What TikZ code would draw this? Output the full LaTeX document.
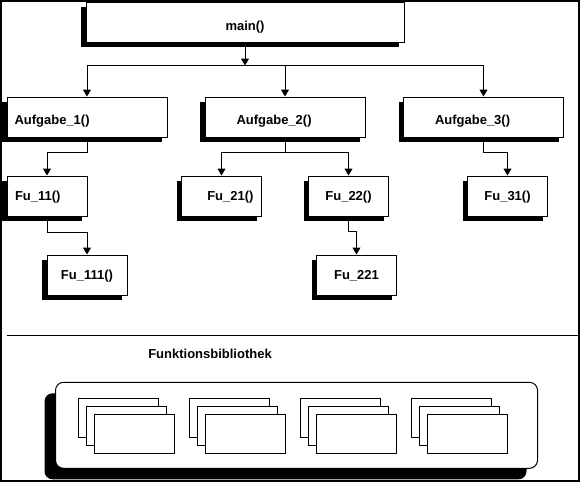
\documentclass[tikz,border=0pt]{standalone}
\usepackage{fontspec}
\setmainfont{Liberation Sans}
\usetikzlibrary{arrows.meta,shadows}

\tikzset{
  box/.style={draw, fill=white, minimum width=80pt, minimum height=40pt, inner sep=0pt,
    text height=9.5pt, text depth=0pt,
    drop shadow={shadow xshift=-5pt, shadow yshift=-5pt, fill=black, opacity=1}},
  bigbox/.style={box, minimum width=160pt, text height=14pt},
  libbox/.style={draw, fill=white, rounded corners=8pt, minimum width=482pt, minimum height=86pt,
    drop shadow={shadow xshift=-11pt, shadow yshift=-11pt, fill=black, opacity=1}},
  sheet/.style={draw, fill=white}
}

\begin{document}
\begin{tikzpicture}[x=1pt, y=-1pt, >={Triangle[length=7pt,width=8pt]}, line width=1pt,
    node distance=79pt, font=\bfseries\fontsize{13}{15}\selectfont]
  \useasboundingbox (0,0) rectangle (580,482);
  \draw[line width=2pt] (1,1) rectangle (579,481);

  \node[box, minimum width=318pt, text height=16pt] (MAIN) at (245,22) {main()};
  \node[bigbox, inner xsep=31.5pt, text width=97pt, align=left] (A2) [below of=MAIN, node distance=95pt, xshift=40pt] {Aufgabe\_2()};
  \node[bigbox, inner xsep=7.5pt, text width=145pt, align=left]  (A1) [left of=A2, node distance=198pt]    {Aufgabe\_1()};
  \node[bigbox, inner xsep=31.5pt, text width=97pt, align=left]  (A3) [right of=A2, node distance=198.5pt] {Aufgabe\_3()};

  \node[box, inner xsep=8pt, text width=64pt, align=left]  (F11)  [below of=A1, xshift=-40pt]   {Fu\_11()};
  \node[box, inner xsep=8pt, text width=64pt, align=right] (F21)  [below of=A2, xshift=-63.5pt] {Fu\_21()};
  \node[box]                                              (F22)  [below of=A2, xshift=63.5pt]  {Fu\_22()};
  \node[box]                                              (F31)  [below of=A3, xshift=24pt]    {Fu\_31()};
  \node[box]                                              (F111) [below of=F11, xshift=40pt]   {Fu\_111()};
  \node[box]                                              (F221) [below of=F22, xshift=8pt]    {Fu\_221};

  \coordinate[below of=MAIN, node distance=43.5pt] (BUS);
  \draw[->] (MAIN) -- (BUS);
  \draw (A1.north |- BUS) -- (A3.north |- BUS);
  \foreach \n in {A1,A2,A3}
    \draw[->] (\n.north |- BUS) -- (\n);

  \draw[->] (A1.south)  -- ++(0,-15pt) -| (F11.north);
  \draw[->] (A2.south)  -- ++(0,-15pt) -| (F21.north);
  \draw[->] (A2.south)  -- ++(0,-15pt) -| (F22.north);
  \draw[->] (A3.south)  -- ++(0,-15pt) -| (F31.north);
  \draw[->] (F11.south) -- ++(0,-16pt) -| (F111.north);
  \draw[->] (F22.south) -- ++(0,-15pt) -| (F221.north);

  % library part
  \draw (7,335) -- (578,335);
  \node (TITLE) at (210,354) {Funktionsbibliothek};
  \node[libbox] (LIB) at (296.5,425.3) {};
  \foreach \x in {0,1,2,3}
    \foreach \d in {0,8,16}
      \draw[sheet] (78.4+111*\x+\d, 398.3+\d) rectangle ++(80,39);
\end{tikzpicture}
\end{document}
